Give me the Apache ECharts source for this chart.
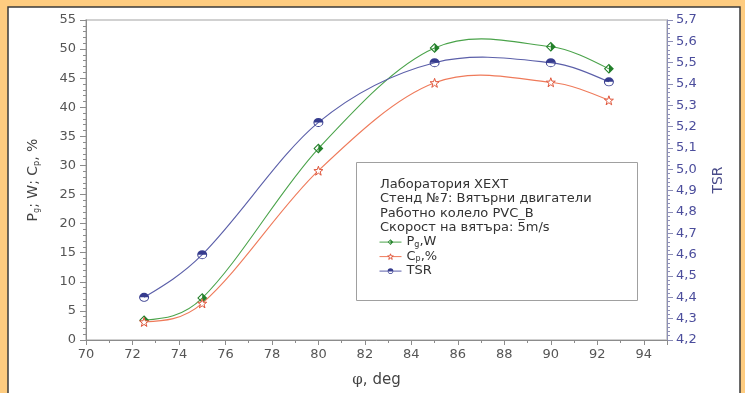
<!DOCTYPE html>
<html><head><meta charset="utf-8">
<script src="https://cdn.jsdelivr.net/npm/echarts@6/dist/echarts.min.js"></script>
<style>html,body{margin:0;padding:0;background:#FECC80}#c{width:745px;height:393px}</style>
</head><body><div id="c"></div>
<script>
// ---- data ----
const phiDeg = [72.5, 75, 80, 85, 90, 92.5];
const pgW    = [3.4, 7.2, 32.9, 50.2, 50.4, 46.6];
const cpPct  = [3.1, 6.3, 29.1, 44.2, 44.3, 41.2];
const tsr    = [4.40, 4.60, 5.22, 5.50, 5.50, 5.41];
const seriesNames = ['Pg,W', 'Cp,%', 'TSR'];
const infoLines = ['Лаборатория ХЕХТ', 'Стенд №7: Вятърни двигатели', 'Работно колело PVC_B', 'Скорост на вятъра: 5m/s'];
const xRange = [70, 95, 2];
const yLeftRange = [0, 55, 5];
const yRightRange = [4.2, 5.7, 0.1];

// ---- styles ----
const FONT = 'DejaVu Sans';
const GRAY = '#555';
const AX = '#8c8c8c';
const BLUE_TXT = '#4b4d9c';
const C_G = '#4aa34a', C_GM = '#23802a';
const C_R = '#ef7a5a', C_RM = '#e0553a';
const C_B = '#5b5fa9', C_BM = '#363c8e';

const symDiamond = 'path://M10,0 L20,10 L10,20 L0,10 Z M10,3 L3,10 L10,17 L17,10 Z M10,0 L20,10 L10,20 Z';
const symCircle = 'path://M0,10 A10,10 0 1,1 20,10 A10,10 0 1,1 0,10 Z M2,10 A8,8 0 1,0 18,10 A8,8 0 1,0 2,10 Z M2,10 A8,8 0 0,1 18,10 Z';
const symStar = 'path://M10,0 L12.35,6.76 L19.51,6.91 L13.8,11.24 L15.88,18.09 L10,14 L4.12,18.09 L6.2,11.24 L0.49,6.91 L7.65,6.76 Z';

const pairs = arr => phiDeg.map((x, i) => [x, arr[i]]);

const chart = echarts.init(document.getElementById('c'));
const subStyle = (c, pad) => ({ fontSize: 8, fontFamily: FONT, color: c, padding: [pad, 0, 0, 0] });

const infoTop = 185.5, infoStep = 14.4;
const graphics = [
  { type: 'rect', z: -10, shape: { x: 8, y: 7, width: 732, height: 400 },
    style: { fill: '#fff', stroke: '#3a3a3a', lineWidth: 1.5 } },
  { type: 'rect', z: 90, shape: { x: 356.5, y: 162.5, width: 281, height: 138 },
    style: { fill: '#fff', stroke: '#a0a0a0', lineWidth: 1 } }
];
infoLines.forEach((t, i) => graphics.push({
  type: 'text', z: 95, left: 380, top: infoTop + i * infoStep - 7.5,
  style: { text: t, fill: '#333', font: '13px "' + FONT + '"' }
}));

const legendFmt = { 'Pg,W': 'P{s|g},W', 'Cp,%': 'C{s|p},%', 'TSR': 'TSR' };

// smooth (cubic Hermite) curve through the data points, drawn via the axis scales
function splineSeries(arr, yIdx, color) {
  return {
    type: 'custom', yAxisIndex: yIdx, silent: true, z: 1,
    data: [[phiDeg[0], arr[0]]],
    renderItem: (params, api) => {
      const p = phiDeg.map((x, i) => api.coord([x, arr[i]]));
      const n = p.length;
      const m = new Array(n);
      for (let i = 1; i < n - 1; i++) m[i] = (p[i + 1][1] - p[i - 1][1]) / (p[i + 1][0] - p[i - 1][0]);
      const h0 = p[1][0] - p[0][0], hn = p[n - 1][0] - p[n - 2][0];
      m[0] = (3 * (p[1][1] - p[0][1]) / h0 - m[1]) / 2;
      m[n - 1] = (3 * (p[n - 1][1] - p[n - 2][1]) / hn - m[n - 2]) / 2;
      let d = 'M' + p[0][0] + ',' + p[0][1];
      for (let i = 0; i < n - 1; i++) {
        const h = p[i + 1][0] - p[i][0];
        const c1 = [p[i][0] + h / 3, p[i][1] + m[i] * h / 3];
        const c2 = [p[i + 1][0] - h / 3, p[i + 1][1] - m[i + 1] * h / 3];
        d += ' C' + c1[0] + ',' + c1[1] + ' ' + c2[0] + ',' + c2[1] + ' ' + p[i + 1][0] + ',' + p[i + 1][1];
      }
      return { type: 'path', shape: { pathData: d }, style: { fill: null, stroke: color, lineWidth: 1.1 } };
    }
  };
}

chart.setOption({
  backgroundColor: '#FECC80',
  animation: false,
  graphic: graphics,
  grid: { left: 86, right: 78, top: 20, bottom: 51, show: true, backgroundColor: 'transparent',
          borderColor: '#c2c2c2', borderWidth: 1.5 },
  legend: {
    z: 100, orient: 'vertical', left: 379, top: infoTop + 4 * infoStep - 7.5,
    itemWidth: 22, itemHeight: 7, itemGap: 1.5, padding: 0,
    data: [
      { name: seriesNames[0], lineStyle: { opacity: 1, color: C_G, width: 1 } },
      { name: seriesNames[1], lineStyle: { opacity: 1, color: C_R, width: 1 },
        itemStyle: { color: '#fff', borderColor: C_RM, borderWidth: 1 } },
      { name: seriesNames[2], lineStyle: { opacity: 1, color: C_B, width: 1 } }
    ],
    formatter: n => legendFmt[n],
    textStyle: { color: '#333', fontSize: 13, fontFamily: FONT, lineHeight: 13,
                 rich: { s: Object.assign(subStyle('#333', 5), { lineHeight: 13 }) } }
  },
  xAxis: {
    type: 'value', min: xRange[0], max: xRange[1], interval: xRange[2],
    axisLine: { lineStyle: { color: AX, width: 1 } },
    axisTick: { length: 5, lineStyle: { color: AX } },
    minorTick: { show: true, splitNumber: 2, length: 3, lineStyle: { color: AX } },
    splitLine: { show: false },
    axisLabel: { color: GRAY, fontSize: 13, fontFamily: FONT, margin: 8,
                 formatter: v => (v > 94 ? '' : String(v)) },
    name: '{phi|φ}, deg', nameLocation: 'middle', nameGap: 33,
    nameTextStyle: { color: '#444', fontSize: 15, fontFamily: FONT,
                     rich: { phi: { fontFamily: 'DejaVu Serif', fontSize: 15, color: '#444' } } }
  },
  yAxis: [{
    type: 'value', position: 'left', min: yLeftRange[0], max: yLeftRange[1], interval: yLeftRange[2],
    axisLine: { show: true, lineStyle: { color: AX, width: 1 } },
    axisTick: { show: true, length: 6, lineStyle: { color: AX } },
    minorTick: { show: true, splitNumber: 5, length: 3, lineStyle: { color: AX } },
    splitLine: { show: false },
    axisLabel: { color: GRAY, fontSize: 13, fontFamily: FONT, margin: 10 },
    name: 'P{s|g}; W; C{s|p}, %', nameLocation: 'middle', nameGap: 45, nameRotate: 90,
    nameTextStyle: { color: '#444', fontSize: 14, fontFamily: FONT, rich: { s: subStyle('#444', 7) } }
  }, {
    type: 'value', position: 'right', min: yRightRange[0], max: yRightRange[1], interval: yRightRange[2],
    axisLine: { show: true, lineStyle: { color: '#8d8fb6', width: 1 } },
    axisTick: { show: true, length: 6, lineStyle: { color: '#8d8fb6' } },
    minorTick: { show: true, splitNumber: 5, length: 3, lineStyle: { color: '#8d8fb6' } },
    splitLine: { show: false },
    axisLabel: { color: BLUE_TXT, fontSize: 13, fontFamily: FONT, margin: 9,
                 formatter: v => v.toFixed(1).replace('.', ',') },
    name: 'TSR', nameLocation: 'middle', nameGap: 44, nameRotate: 90,
    nameTextStyle: { color: '#4a4c8a', fontSize: 14, fontFamily: FONT }
  }],
  series: [
    splineSeries(pgW, 0, C_G),
    splineSeries(cpPct, 0, C_R),
    splineSeries(tsr, 1, C_B),
    { name: seriesNames[0], type: 'line', yAxisIndex: 0, data: pairs(pgW),
      symbol: symDiamond, symbolSize: 10, z: 3,
      lineStyle: { color: C_G, opacity: 0 }, itemStyle: { color: C_GM } },
    { name: seriesNames[1], type: 'line', yAxisIndex: 0, data: pairs(cpPct),
      symbol: symStar, symbolSize: 9, z: 3,
      lineStyle: { color: C_R, opacity: 0 }, itemStyle: { color: '#fff', borderColor: C_RM, borderWidth: 1 } },
    { name: seriesNames[2], type: 'line', yAxisIndex: 1, data: pairs(tsr),
      symbol: symCircle, symbolSize: [10, 9], z: 3,
      lineStyle: { color: C_B, opacity: 0 }, itemStyle: { color: C_BM } }
  ]
});
</script></body></html>
